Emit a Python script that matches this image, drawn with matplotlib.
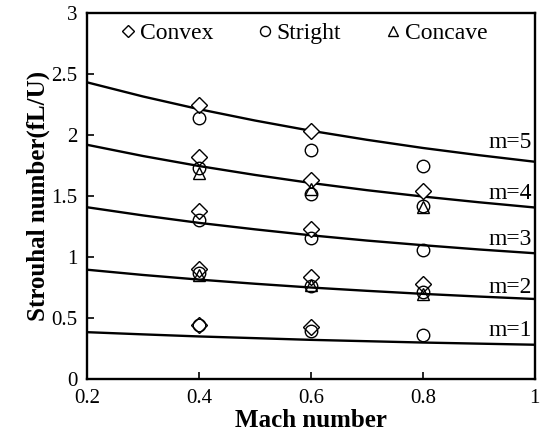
import matplotlib
matplotlib.use("Agg")
import matplotlib.pyplot as plt
from matplotlib.ticker import FuncFormatter

plt.rcParams['font.family'] = ['Liberation Serif', 'DejaVu Serif']

# Curves (Rossiter-type lines) read at Mach 0.2 .. 1.0
mach_line = [0.2, 0.3, 0.4, 0.5, 0.6, 0.7, 0.8, 0.9, 1.0]
m1 = [0.384, 0.366, 0.349, 0.335, 0.321, 0.310, 0.299, 0.290, 0.281]
m2 = [0.896, 0.853, 0.815, 0.781, 0.750, 0.723, 0.698, 0.676, 0.656]
m3 = [1.408, 1.341, 1.280, 1.227, 1.178, 1.135, 1.097, 1.062, 1.031]
m4 = [1.920, 1.828, 1.746, 1.673, 1.607, 1.548, 1.496, 1.449, 1.406]
m5 = [2.432, 2.316, 2.212, 2.119, 2.035, 1.961, 1.894, 1.835, 1.781]
mode_labels = ["m=1", "m=2", "m=3", "m=4", "m=5"]
mode_label_y = [0.40, 0.75, 1.14, 1.52, 1.94]

# Measured points
convex_x = [0.4, 0.4, 0.4, 0.4, 0.4, 0.6, 0.6, 0.6, 0.6, 0.6, 0.8, 0.8]
convex_y = [2.25, 1.82, 1.38, 0.90, 0.44, 2.03, 1.63, 1.23, 0.84, 0.43, 1.54, 0.78]
stright_x = [0.4, 0.4, 0.4, 0.4, 0.4, 0.6, 0.6, 0.6, 0.6, 0.6, 0.8, 0.8, 0.8, 0.8, 0.8]
stright_y = [2.14, 1.73, 1.30, 0.87, 0.44, 1.88, 1.52, 1.16, 0.76, 0.39, 1.75, 1.42, 1.06, 0.71, 0.36]
concave_x = [0.4, 0.4, 0.6, 0.6, 0.8, 0.8]
concave_y = [1.69, 0.85, 1.56, 0.77, 1.41, 0.70]

fig = plt.figure(figsize=(5.44, 4.42), dpi=100)
ax = fig.add_axes([0.160, 0.1425, 0.823, 0.828])

for ys in [m1, m2, m3, m4, m5]:
    ax.plot(mach_line, ys, color='black', lw=1.7, zorder=2)

for lab, yy in zip(mode_labels, mode_label_y):
    ax.text(0.995, yy, lab, ha='right', va='center', fontsize=17)

ax.plot(convex_x, convex_y, linestyle='none', marker='D', markersize=8,
        mfc='white', mec='black', mew=1.0, label='Convex', zorder=3)
ax.plot(stright_x, stright_y, linestyle='none', marker='o', markersize=9,
        mfc='none', mec='black', mew=1.0, label='Stright', zorder=4)
ax.plot(concave_x, concave_y, linestyle='none', marker='^', markersize=9,
        mfc='none', mec='black', mew=1.0, label='Concave', zorder=5)

ax.set_xlim(0.2, 1.0)
ax.set_ylim(0, 3)
ax.set_xticks([0.2, 0.4, 0.6, 0.8, 1.0])
ax.set_yticks([0, 0.5, 1, 1.5, 2, 2.5, 3])
fmt = FuncFormatter(lambda v, p: ('%g' % v))
ax.xaxis.set_major_formatter(fmt)
ax.yaxis.set_major_formatter(fmt)
ax.tick_params(direction='in', length=5, width=1.2, labelsize=15, pad=7,
               top=False, right=False)
for s in ax.spines.values():
    s.set_linewidth(1.7)

ax.set_xlabel('Mach number', fontsize=18, fontweight='bold', labelpad=1)
ax.set_ylabel('Strouhal number(fL/U)', fontsize=18, fontweight='bold', labelpad=1)

leg = ax.legend(loc='center', bbox_to_anchor=(0.485, 0.945), ncol=3,
                frameon=False, fontsize=17, markerscale=0.8,
                handlelength=0.6, handletextpad=0.2, columnspacing=1.9)

fig.savefig('out.png', dpi=100)
